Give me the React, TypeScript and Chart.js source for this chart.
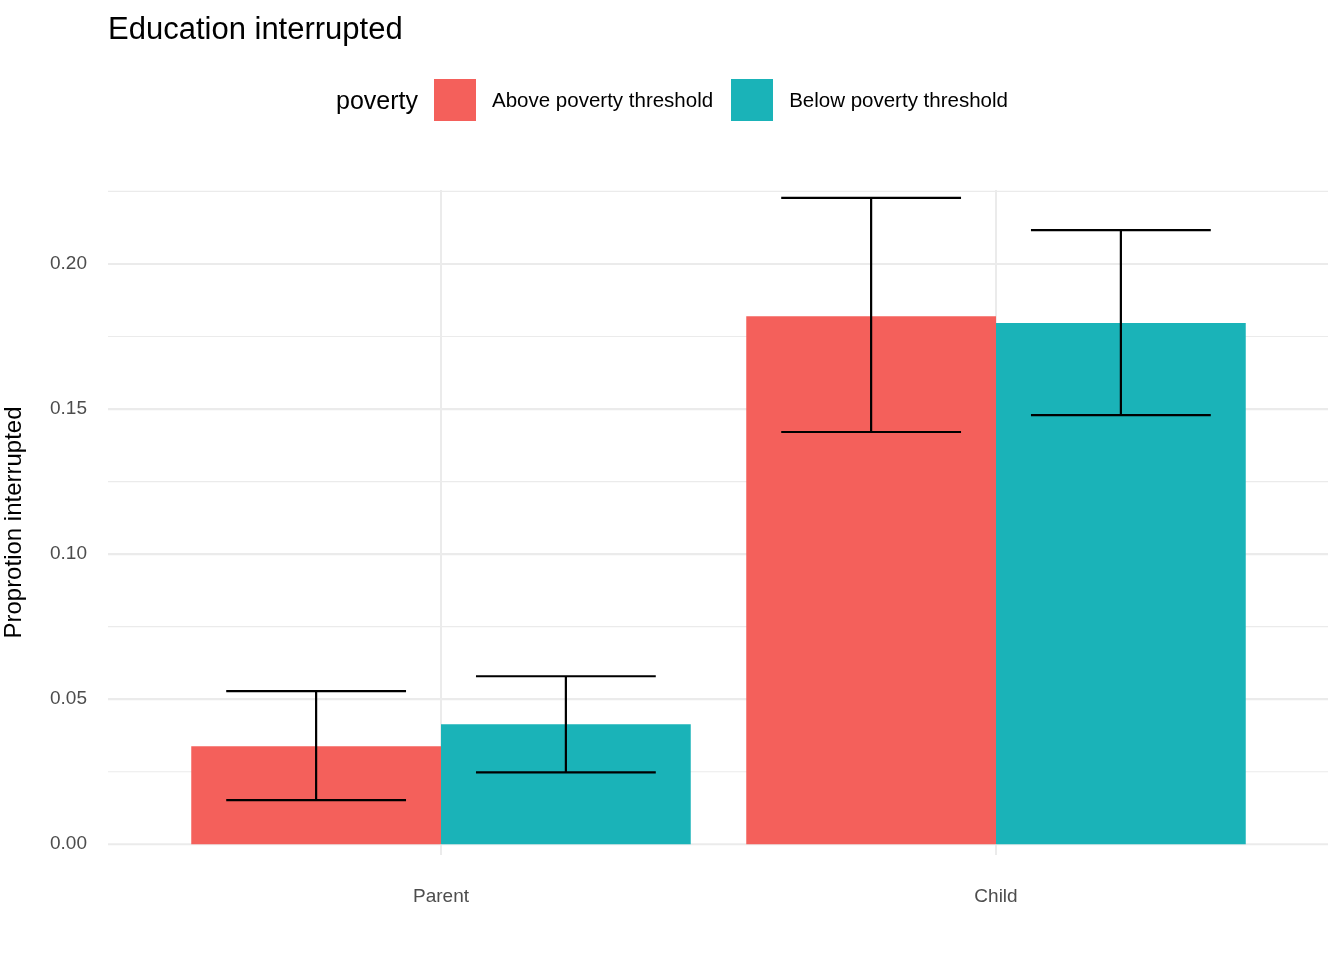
import React, { useEffect, useRef } from 'react';
import { Chart, registerables } from 'chart.js';

Chart.register(...registerables);

const groups = ['Parent', 'Child'];
const seriesNames = ['Above poverty threshold', 'Below poverty threshold'];
const colors = ['#F4605B', '#1AB3B8'];
const aboveValues = [0.0338, 0.182];
const belowValues = [0.0414, 0.1797];
const aboveLow = [0.0152, 0.1421];
const aboveHigh = [0.0528, 0.2228];
const belowLow = [0.0248, 0.1479];
const belowHigh = [0.0579, 0.2117];
const yTicks = [0, 0.05, 0.1, 0.15, 0.2];

const FONT = '"Liberation Sans", Arial, sans-serif';
const PANEL_LEFT = 108;
const PANEL_RIGHT = 1328;

const panelGrid = {
  id: 'panelGrid',
  beforeDatasetsDraw(chart: any) {
    const ctx = chart.ctx;
    const y = chart.scales.y;
    ctx.save();
    ctx.strokeStyle = '#ebebeb';
    for (let k = 0; k <= 9; k++) {
      const py = y.getPixelForValue(k * 0.025);
      ctx.lineWidth = k % 2 === 0 ? 2.2 : 1.2;
      ctx.beginPath();
      ctx.moveTo(PANEL_LEFT, py);
      ctx.lineTo(PANEL_RIGHT, py);
      ctx.stroke();
    }
    ctx.restore();
  },
};

const errorBars = {
  id: 'errorBars',
  afterDatasetsDraw(chart: any) {
    const ctx = chart.ctx;
    const y = chart.scales.y;
    const lows = [aboveLow, belowLow];
    const highs = [aboveHigh, belowHigh];
    ctx.save();
    ctx.strokeStyle = '#000';
    ctx.lineWidth = 2.2;
    chart.data.datasets.forEach((_: any, di: number) => {
      chart.getDatasetMeta(di).data.forEach((bar: any, i: number) => {
        const half = bar.width * 0.36;
        const yl = y.getPixelForValue(lows[di][i]);
        const yh = y.getPixelForValue(highs[di][i]);
        ctx.beginPath();
        ctx.moveTo(bar.x, yl);
        ctx.lineTo(bar.x, yh);
        ctx.moveTo(bar.x - half, yl);
        ctx.lineTo(bar.x + half, yl);
        ctx.moveTo(bar.x - half, yh);
        ctx.lineTo(bar.x + half, yh);
        ctx.stroke();
      });
    });
    ctx.restore();
  },
};

export default function App() {
  const ref = useRef<HTMLCanvasElement>(null);

  useEffect(() => {
    const chart = new Chart(ref.current!, {
      type: 'bar',
      data: {
        labels: groups,
        datasets: [
          { label: seriesNames[0], data: aboveValues, backgroundColor: colors[0] },
          { label: seriesNames[1], data: belowValues, backgroundColor: colors[1] },
        ],
      },
      options: {
        responsive: false,
        animation: false,
        layout: { padding: { top: 190, right: 70.5, left: 0, bottom: 0 } },
        datasets: { bar: { categoryPercentage: 0.9, barPercentage: 1 } },
        plugins: { legend: { display: false }, tooltip: { enabled: false } },
        scales: {
          x: {
            type: 'category',
            offset: true,
            afterFit: (s: any) => { s.height = 105; },
            ticks: {
              color: '#4d4d4d',
              font: { family: FONT, size: 19 },
              padding: 30,
            },
            grid: { color: '#ebebeb', lineWidth: 2, drawTicks: false, offset: false },
            border: { display: false },
          },
          y: {
            min: -0.0037,
            max: 0.2255,
            afterBuildTicks: (s: any) => { s.ticks = yTicks.map((v) => ({ value: v })); },
            afterFit: (s: any) => { s.width = 163.5; },
            ticks: {
              callback: (v: any) => Number(v).toFixed(2),
              color: '#4d4d4d',
              font: { family: FONT, size: 19 },
              padding: 68.5,
            },
            grid: { display: false },
            border: { display: false },
            title: {
              display: true,
              text: 'Proprotion interrupted',
              color: '#000',
              font: { family: FONT, size: 24 },
              padding: { top: 0, bottom: 0 },
            },
          },
        },
      },
      plugins: [panelGrid, errorBars],
    });
    return () => chart.destroy();
  }, []);

  return (
    <div style={{ position: 'absolute', left: 0, top: 0, width: 1344, height: 960, background: '#fff', fontFamily: FONT }}>
      <canvas ref={ref} width={1344} height={960} style={{ position: 'absolute', left: 0, top: 0 }} />
      <div style={{ position: 'absolute', left: 108, top: 11, fontSize: 31, color: '#000' }}>Education interrupted</div>
      <div style={{ position: 'absolute', left: 0, top: 79, width: 1344, display: 'flex', justifyContent: 'center', alignItems: 'center' }}>
        <span style={{ fontSize: 25, marginRight: 16 }}>poverty</span>
        {seriesNames.map((n, i) => (
          <span key={n} style={{ display: 'flex', alignItems: 'center', marginRight: i === 0 ? 18 : 0 }}>
            <span style={{ width: 42, height: 42, background: colors[i], display: 'inline-block', marginRight: 16 }} />
            <span style={{ fontSize: 20.5 }}>{n}</span>
          </span>
        ))}
      </div>
    </div>
  );
}
